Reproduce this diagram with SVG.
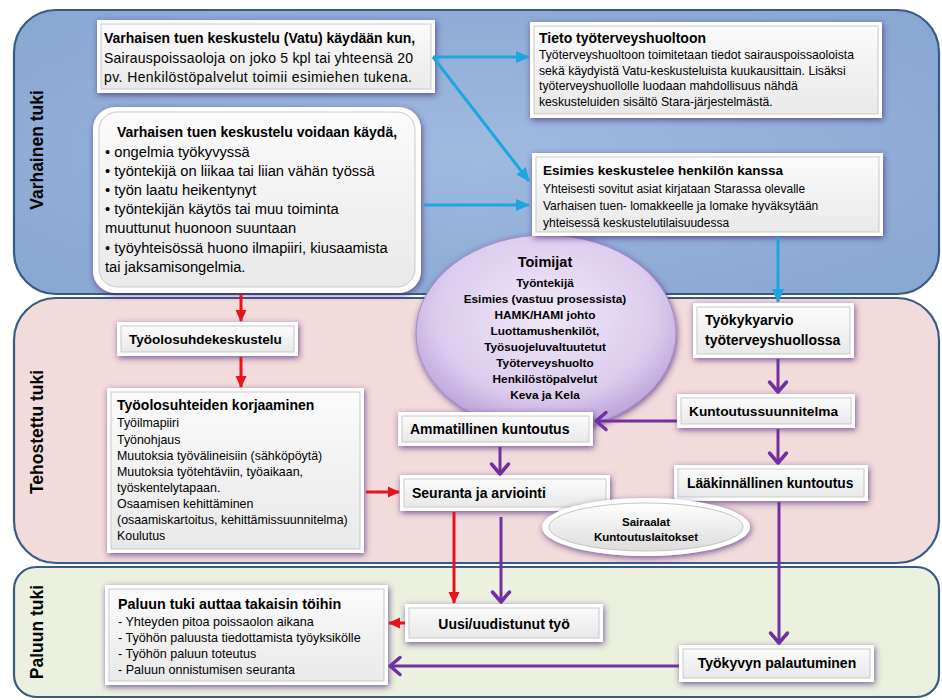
<svg xmlns="http://www.w3.org/2000/svg" width="942" height="700" viewBox="0 0 942 700">
<defs>
<style>
.t{font-family:"Liberation Sans",Arial,sans-serif;fill:#000}
.b{font-weight:bold}
.lbl{font-family:"Liberation Sans",Arial,sans-serif;font-weight:bold;font-size:17.5px;fill:#000}
.frame{fill:#fff}
.inner{fill:url(#ig);stroke:#c9c9c9;stroke-width:1}
.band{stroke:#3a5a86;stroke-width:2.2}
.cb{fill:none;stroke:#1ea5df;stroke-width:3}
.cr{fill:none;stroke:#e8121c;stroke-width:3}
.cp{fill:none;stroke:#7030a0;stroke-width:3}
</style>
<linearGradient id="ig" x1="0" y1="0" x2="0" y2="1">
<stop offset="0" stop-color="#fbfbfb"/><stop offset="1" stop-color="#e9e9e9"/>
</linearGradient>
<radialGradient id="blueg" cx="0.5" cy="0.5" r="0.7">
<stop offset="0" stop-color="#9fbadf"/><stop offset="1" stop-color="#87a6d2"/>
</radialGradient>
<radialGradient id="toig" cx="0.5" cy="0.4" r="0.6">
<stop offset="0" stop-color="#efe7f7"/><stop offset="0.7" stop-color="#dccdee"/><stop offset="1" stop-color="#b9a1da"/>
</radialGradient>
<linearGradient id="sg" x1="0" y1="0" x2="0" y2="1">
<stop offset="0" stop-color="#ffffff"/><stop offset="1" stop-color="#dcdcdc"/>
</linearGradient>
<filter id="glow" x="-15%" y="-30%" width="130%" height="160%">
<feGaussianBlur in="SourceAlpha" stdDeviation="3"/>
<feOffset dx="1" dy="2" result="bl"/>
<feFlood flood-color="#4a2a7c" flood-opacity="0.75"/>
<feComposite in2="bl" operator="in"/>
<feMerge><feMergeNode/><feMergeNode in="SourceGraphic"/></feMerge>
</filter>
<marker id="ab" markerUnits="userSpaceOnUse" markerWidth="16" markerHeight="16" refX="13" refY="8" orient="auto">
<path d="M0,2 L14,8 L0,14 Z" fill="#1ea5df"/>
</marker>
<marker id="ar" markerUnits="userSpaceOnUse" markerWidth="14" markerHeight="14" refX="11" refY="7" orient="auto">
<path d="M0,1.5 L12,7 L0,12.5 Z" fill="#e8121c"/>
</marker>
<marker id="ap" markerUnits="userSpaceOnUse" markerWidth="20" markerHeight="22" refX="15" refY="11" orient="auto">
<path d="M5,2.5 L15,11 L5,19.5" fill="none" stroke="#7030a0" stroke-width="3.5" stroke-linecap="round" stroke-linejoin="round"/>
</marker>
</defs>

<g id="bands">
<rect class="band" x="14" y="10" width="925" height="284" rx="42" fill="url(#blueg)"/>
<rect class="band" x="14" y="298" width="925" height="265" rx="42" fill="#f2dbdb"/>
<rect class="band" x="14" y="567" width="925" height="130" rx="22" fill="#ebf0df"/>
<text class="lbl" transform="translate(43,150) rotate(-90)" text-anchor="middle">Varhainen tuki</text>
<text class="lbl" transform="translate(43,432) rotate(-90)" text-anchor="middle">Tehostettu tuki</text>
<text class="lbl" transform="translate(43,632) rotate(-90)" text-anchor="middle">Paluun tuki</text>
</g>

<g id="toimijat">
<ellipse cx="546" cy="333" rx="130" ry="98" fill="url(#toig)" stroke="#a68bcb" stroke-width="1" filter="url(#glow)"/>
<g class="t b" text-anchor="middle" font-size="11.8">
<text x="545" y="267" font-size="14.5">Toimijat</text>
<text x="545" y="287">Työntekijä</text>
<text x="545" y="303">Esimies (vastuu prosessista)</text>
<text x="545" y="319">HAMK/HAMI johto</text>
<text x="545" y="335">Luottamushenkilöt,</text>
<text x="545" y="351">Työsuojeluvaltuutetut</text>
<text x="545" y="367">Työterveyshuolto</text>
<text x="545" y="383">Henkilöstöpalvelut</text>
<text x="545" y="399">Keva ja Kela</text>
</g>
</g>

<g id="vatu">
<rect class="frame" x="97" y="20" width="338" height="73" filter="url(#glow)"/>
<rect class="inner" x="101" y="24" width="330" height="65"/>
<text class="t b" x="104" y="43" font-size="14">Varhaisen tuen keskustelu (Vatu) käydään kun,</text>
<text class="t" x="104" y="63" font-size="14" textLength="309" lengthAdjust="spacing">Sairauspoissaoloja on joko 5 kpl tai yhteensä 20</text>
<text class="t" x="104" y="82" font-size="14" textLength="308" lengthAdjust="spacing">pv. Henkilöstöpalvelut toimii esimiehen tukena.</text>
</g>

<g id="tieto">
<rect class="frame" x="530" y="22" width="352" height="96" filter="url(#glow)"/>
<rect class="inner" x="534" y="26" width="344" height="88"/>
<text class="t b" x="539" y="43" font-size="14">Tieto työterveyshuoltoon</text>
<g class="t" font-size="12.2">
<text x="539" y="59">Työterveyshuoltoon toimitetaan tiedot sairauspoissaoloista</text>
<text x="539" y="75">sekä käydyistä Vatu-keskusteluista kuukausittain. Lisäksi</text>
<text x="539" y="90">työterveyshuollolle luodaan mahdollisuus nähdä</text>
<text x="539" y="106">keskusteluiden sisältö Stara-järjestelmästä.</text>
</g>
</g>

<g id="voidaan">
<rect class="frame" x="93" y="107" width="328" height="186" rx="22" filter="url(#glow)"/>
<rect class="inner" x="99" y="112" width="316" height="175" rx="18"/>
<text class="t b" x="257" y="137" font-size="14" text-anchor="middle">Varhaisen tuen keskustelu voidaan käydä,</text>
<g class="t" font-size="14.7">
<text x="105" y="157">• ongelmia työkyvyssä</text>
<text x="105" y="176">• työntekijä on liikaa tai liian vähän työssä</text>
<text x="105" y="195">• työn laatu heikentynyt</text>
<text x="105" y="214">• työntekijän käytös tai muu toiminta</text>
<text x="105" y="233">muuttunut huonoon suuntaan</text>
<text x="105" y="253">• työyhteisössä huono ilmapiiri, kiusaamista</text>
<text x="105" y="272">tai jaksamisongelmia.</text>
</g>
</g>

<g id="esimies">
<rect class="frame" x="532" y="153" width="351" height="83" filter="url(#glow)"/>
<rect class="inner" x="536" y="157" width="343" height="75"/>
<text class="t b" x="543" y="175" font-size="13.5">Esimies keskustelee henkilön kanssa</text>
<g class="t" font-size="12">
<text x="543" y="193">Yhteisesti sovitut asiat kirjataan Starassa olevalle</text>
<text x="543" y="210">Varhaisen tuen- lomakkeelle ja lomake hyväksytään</text>
<text x="543" y="227">yhteisessä keskustelutilaisuudessa</text>
</g>
</g>

<g id="tyoolosuhdekeskustelu">
<rect class="frame" x="117" y="322" width="181" height="34" filter="url(#glow)"/>
<rect class="inner" x="121" y="326" width="173" height="26"/>
<text class="t b" x="129" y="344" font-size="13.5">Työolosuhdekeskustelu</text>
</g>

<g id="tyokykyarvio">
<rect class="frame" x="693" y="303" width="161" height="55" filter="url(#glow)"/>
<rect class="inner" x="697" y="307" width="153" height="47"/>
<text class="t b" x="705" y="325" font-size="14">Työkykyarvio</text>
<text class="t b" x="705" y="345" font-size="14">työterveyshuollossa</text>
</g>

<g id="korjaaminen">
<rect class="frame" x="107" y="388" width="257" height="165" filter="url(#glow)"/>
<rect class="inner" x="111" y="392" width="249" height="157"/>
<text class="t b" x="117" y="410" font-size="14">Työolosuhteiden korjaaminen</text>
<g class="t" font-size="12.4">
<text x="117" y="427">Työilmapiiri</text>
<text x="117" y="444">Työnohjaus</text>
<text x="117" y="460">Muutoksia työvälineisiin (sähköpöytä)</text>
<text x="117" y="476">Muutoksia työtehtäviin, työaikaan,</text>
<text x="117" y="492">työskentelytapaan.</text>
<text x="117" y="508">Osaamisen kehittäminen</text>
<text x="117" y="524">(osaamiskartoitus, kehittämissuunnitelma)</text>
<text x="117" y="540">Koulutus</text>
</g>
</g>

<g id="kuntoutussuunnitelma">
<rect class="frame" x="677" y="394" width="178" height="34" filter="url(#glow)"/>
<rect class="inner" x="681" y="398" width="170" height="26"/>
<text class="t b" x="689" y="416" font-size="13.7">Kuntoutussuunnitelma</text>
</g>

<g id="ammatillinen">
<rect class="frame" x="398" y="412" width="195" height="34" filter="url(#glow)"/>
<rect class="inner" x="402" y="416" width="187" height="26"/>
<text class="t b" x="410" y="434" font-size="14">Ammatillinen kuntoutus</text>
</g>

<g id="laakinnallinen">
<rect class="frame" x="674" y="465" width="194" height="36" filter="url(#glow)"/>
<rect class="inner" x="678" y="469" width="186" height="28"/>
<text class="t b" x="687" y="488" font-size="13.8">Lääkinnällinen kuntoutus</text>
</g>

<g id="seuranta">
<rect class="frame" x="400" y="475" width="210" height="36" filter="url(#glow)"/>
<rect class="inner" x="404" y="479" width="202" height="28"/>
<text class="t b" x="412" y="498" font-size="14">Seuranta ja arviointi</text>
</g>

<g id="sairaalat">
<ellipse cx="646" cy="527" rx="104" ry="29" fill="#fff" filter="url(#glow)"/>
<ellipse cx="646" cy="527" rx="97" ry="24" fill="url(#sg)" stroke="#c4c4c4" stroke-width="1"/>
<text class="t b" x="646" y="526" font-size="11.5" text-anchor="middle">Sairaalat</text>
<text class="t b" x="646" y="541" font-size="11.5" text-anchor="middle">Kuntoutuslaitokset</text>
</g>

<g id="paluun">
<rect class="frame" x="105" y="585" width="283" height="100" filter="url(#glow)"/>
<rect class="inner" x="109" y="589" width="275" height="92"/>
<text class="t b" x="118" y="609" font-size="14.3">Paluun tuki auttaa takaisin töihin</text>
<g class="t" font-size="12.6">
<text x="118" y="626">- Yhteyden pitoa poissaolon aikana</text>
<text x="118" y="642">- Työhön paluusta tiedottamista työyksikölle</text>
<text x="118" y="658">- Työhön paluun toteutus</text>
<text x="118" y="674">- Paluun onnistumisen seuranta</text>
</g>
</g>

<g id="uusi">
<rect class="frame" x="405" y="604" width="198" height="38" filter="url(#glow)"/>
<rect class="inner" x="409" y="608" width="190" height="30"/>
<text class="t b" x="504" y="629" font-size="14" text-anchor="middle">Uusi/uudistunut työ</text>
</g>

<g id="tyokyvyn">
<rect class="frame" x="679" y="645" width="195" height="37" filter="url(#glow)"/>
<rect class="inner" x="683" y="649" width="187" height="29"/>
<text class="t b" x="777" y="668" font-size="14" text-anchor="middle">Työkyvyn palautuminen</text>
</g>

<g id="connectors">
<path class="cb" d="M433,57 L529,57" marker-end="url(#ab)"/>
<path class="cb" d="M433,57 L529,181" marker-end="url(#ab)"/>
<path class="cb" d="M424,205 L529,205" marker-end="url(#ab)"/>
<path class="cb" d="M778,237 L778,302" marker-end="url(#ab)"/>
<path class="cr" d="M241,294 L241,321" marker-end="url(#ar)"/>
<path class="cr" d="M241,357 L241,387" marker-end="url(#ar)"/>
<path class="cr" d="M366,492 L399,492" marker-end="url(#ar)"/>
<path class="cr" d="M454,512 L454,603" marker-end="url(#ar)"/>
<path class="cr" d="M405,623 L389,623" marker-end="url(#ar)"/>
<path class="cp" d="M778,359 L778,392" marker-end="url(#ap)"/>
<path class="cp" d="M677,421 L596,421" marker-end="url(#ap)"/>
<path class="cp" d="M778,429 L778,463" marker-end="url(#ap)"/>
<path class="cp" d="M500,447 L500,474" marker-end="url(#ap)"/>
<path class="cp" d="M501,517 L501,602" marker-end="url(#ap)"/>
<path class="cp" d="M779,502 L779,643" marker-end="url(#ap)"/>
<path class="cp" d="M679,666 L390,666" marker-end="url(#ap)"/>
</g>
</svg>
